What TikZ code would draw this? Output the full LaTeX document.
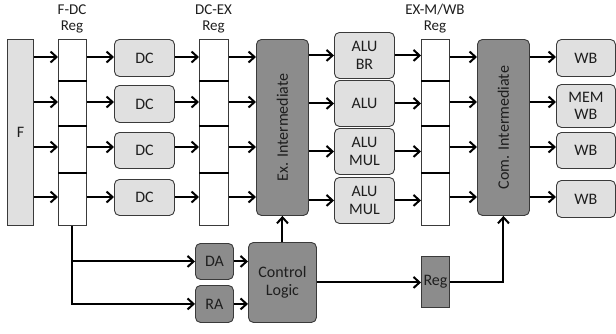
\documentclass[tikz,border=0pt]{standalone}
\usepackage{fontspec}
\setmainfont{Carlito}
\usetikzlibrary{arrows.meta}
\definecolor{lightfill}{HTML}{E0E0E0}
\definecolor{darkfill}{HTML}{8C8C8C}
\definecolor{edge}{HTML}{3A3A3A}
\definecolor{txt}{HTML}{1E1E1E}
\begin{document}
\begin{tikzpicture}[x=1pt,y=-1pt,
  box/.style={draw=edge, line width=0.9pt, rounded corners=5pt, inner sep=0pt,
    anchor=north west, font=\fontsize{16}{17.5}\selectfont, align=center, text=txt},
  lbox/.style={box, fill=lightfill},
  dbox/.style={box, fill=darkfill},
  regbox/.style={draw=edge, line width=0.9pt, fill=white, inner sep=0pt,
    anchor=north west, minimum width=28pt, minimum height=186pt},
  arr/.style={line width=2pt, -{Straight Barb[length=6pt,width=11pt]}},
  divider/.style={line width=2.7pt},
  lbl/.style={font=\fontsize{15}{16}\selectfont, align=center, text=txt}
]
\useasboundingbox (0,0) rectangle (616,333);

% top labels
\node[lbl] (l1) at (72,19) {F-DC\\Reg};
\node[lbl] (l2) at (213.5,19) {DC-EX\\Reg};
\node[lbl] (l3) at (435,19) {EX-M/WB\\Reg};

% fetch
\node[lbox, rounded corners=0pt, minimum width=26pt, minimum height=186pt] (F) at (7,39) {F};

% registers
\node[regbox] (fdc) at (58,39) {};
\node[regbox, minimum width=29pt] (dcex) at (199,39) {};
\node[regbox] (exm) at (421,39) {};
\foreach \r in {fdc,dcex,exm}{
  \foreach \y in {81,126,173}{
    \draw[divider] (\r.west |- 0,\y) -- (\r.east |- 0,\y);
  }
}

% decode
\node[lbox, minimum width=60pt, minimum height=37pt] (dc1) at (114,39) {DC};
\node[lbox, minimum width=60pt, minimum height=37pt] (dc2) at (114,85) {DC};
\node[lbox, minimum width=60pt, minimum height=36pt] (dc3) at (114,132) {DC};
\node[lbox, minimum width=60pt, minimum height=36pt] (dc4) at (114,179) {DC};

% intermediates
\node[dbox, minimum width=52pt, minimum height=176pt] (exi) at (256,39) {\rotatebox{90}{Ex. Intermediate}};
\node[dbox, minimum width=52pt, minimum height=176pt] (comi) at (477,39) {\rotatebox{90}{Com. Intermediate}};

% ALUs
\node[lbox, minimum width=60pt, minimum height=46pt] (alu1) at (334,32) {ALU\\BR};
\node[lbox, minimum width=60pt, minimum height=46pt] (alu2) at (334,80) {ALU};
\node[lbox, minimum width=60pt, minimum height=46pt] (alu3) at (334,128) {ALU\\MUL};
\node[lbox, minimum width=60pt, minimum height=46pt] (alu4) at (334,177) {ALU\\MUL};

% write back
\node[lbox, minimum width=59pt, minimum height=37pt] (wb1) at (556,39) {WB};
\node[lbox, minimum width=59pt, minimum height=43pt] (wb2) at (556,84) {MEM\\WB};
\node[lbox, minimum width=59pt, minimum height=36pt] (wb3) at (556,132) {WB};
\node[lbox, minimum width=59pt, minimum height=37pt] (wb4) at (556,180) {WB};

% bottom control
\node[dbox, minimum width=38pt, minimum height=36pt] (da) at (195,243) {DA};
\node[dbox, minimum width=38pt, minimum height=37pt] (ra) at (195,285) {RA};
\node[dbox, minimum width=68pt, minimum height=80pt] (cl) at (248,242) {Control\\Logic};
\node[dbox, rounded corners=0pt, minimum width=28pt, minimum height=51pt] (reg) at (421,256) {Reg};

% row connectors
\foreach \i/\y in {1/57,2/102,3/147,4/197}{
  \draw[arr] (F.east |- 0,\y) -- (fdc.west |- 0,\y);
  \draw[arr] (fdc.east |- 0,\y) -- (dc\i.west |- 0,\y);
  \draw[arr] (dc\i.east |- 0,\y) -- (dcex.west |- 0,\y);
  \draw[arr] (dcex.east |- 0,\y) -- (exi.west |- 0,\y);
  \draw[arr] (exi.east |- alu\i.west) -- (alu\i.west);
  \draw[arr] (alu\i.east) -- (alu\i.east -| exm.west);
  \draw[arr] (exm.east |- 0,\y) -- (comi.west |- 0,\y);
  \draw[arr] (comi.east |- 0,\y) -- (wb\i.west |- 0,\y);
}

% control connectors
\draw[arr] (fdc.south) |- (ra.west);
\draw[arr] (fdc.south |- da.west) -- (da.west);
\draw[arr] (da.east) -- (da.east -| cl.west);
\draw[arr] (ra.east) -- (ra.east -| cl.west);
\draw[arr] (cl.north) -- (exi.south);
\draw[arr] (cl.east) -- (cl.east -| reg.west);
\draw[arr] (reg.east) -| (comi.south);
\end{tikzpicture}
\end{document}
